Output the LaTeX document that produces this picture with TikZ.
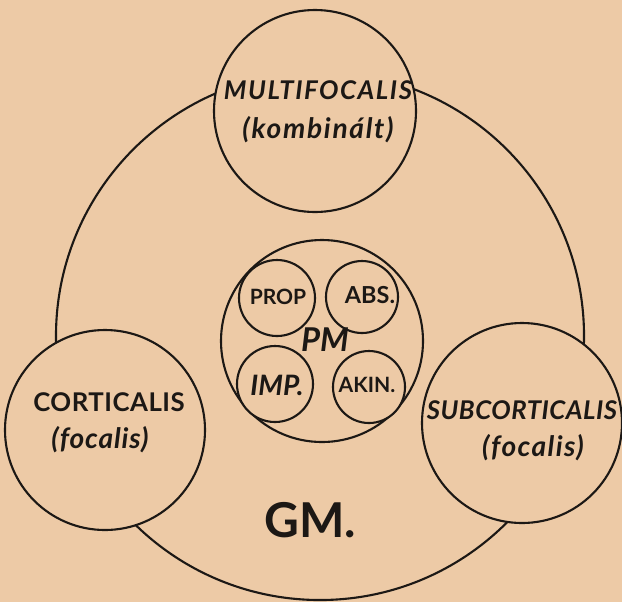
\documentclass[tikz,border=0pt]{standalone}
\usepackage{fontspec}
\setmainfont{Lato}
\usetikzlibrary{positioning}
\definecolor{paperbg}{HTML}{EDCAA6}
\definecolor{inkdark}{HTML}{1C1815}

\begin{document}
\begin{tikzpicture}[
    x=0.03cm, y=-0.03cm,
    ring/.style={circle, draw=inkdark, line width=1.8pt, fill=paperbg, inner sep=0pt, outer sep=0pt},
    bigtext/.style={font=\fontsize{22}{24}\selectfont\bfseries, text=inkdark, inner sep=0pt},
    smalltext/.style={font=\fontsize{18}{20}\selectfont\bfseries, text=inkdark, inner sep=0pt}
]

% 1. Paper background
\fill[paperbg] (0,0) rectangle (622,602);
\useasboundingbox (0,0) rectangle (622,602);

% 2. Outer ring (GM.)
\node[ring, minimum size=15.84cm] (gm) at (320,336) {};
\node[font=\fontsize{41}{44}\selectfont\bfseries, text=inkdark, inner sep=0pt] (gmlabel) at (310,520) {GM.};

% 3. The three focal circles
\node[ring, minimum size=6.06cm] (multi) at (315,111) {};
\node[ring, minimum size=6cm] (cort) at (105,430) {};
\node[ring, minimum size=6cm] (subcort) at (522,423) {};

\node[bigtext] (multiname) at (318,90) {\itshape\addfontfeatures{LetterSpace=6}MULTIFOCALIS};
\node[bigtext, font=\fontsize{24}{26}\selectfont\bfseries] (multisub) at (318,130) {\itshape\addfontfeatures{LetterSpace=6}(kombinált)};
\node[bigtext] (cortname) at (109,402) {\addfontfeatures{LetterSpace=2}CORTICALIS};
\node[bigtext, font=\fontsize{24}{26}\selectfont\bfseries] (cortsub) at (100,440) {\itshape\addfontfeatures{LetterSpace=3}(focalis)};
\node[bigtext] (subname) at (522,410) {\itshape\addfontfeatures{LetterSpace=2}SUBCORTICALIS};
\node[bigtext, font=\fontsize{24}{26}\selectfont\bfseries] (subsub) at (533,448) {\itshape\addfontfeatures{LetterSpace=5}(focalis)};

% 4. PM with its four parts
\node[ring, minimum size=6.06cm] (pm) at (322,341) {};
\node[ring, minimum size=2.28cm] (prop) at (277,298) {};
\node[ring, minimum size=2.16cm] (abs) at (362,297) {};
\node[ring, minimum size=2.28cm] (imp) at (275,384) {};
\node[ring, minimum size=2.16cm] (akin) at (369,387) {};

\node[font=\fontsize{28}{30}\selectfont\bfseries\itshape, text=inkdark, inner sep=0pt] (pmlabel) at (325,340) {PM};
\node[smalltext] (proplabel) at (278,297) {PROP};
\node[smalltext, font=\fontsize{20}{22}\selectfont\bfseries] (abslabel) at (370,295) {ABS.};
\node[smalltext, font=\fontsize{24}{26}\selectfont\bfseries\itshape] (implabel) at (277,385) {IMP.};
\node[smalltext] (akinlabel) at (367,385) {AKIN.};

\end{tikzpicture}
\end{document}
